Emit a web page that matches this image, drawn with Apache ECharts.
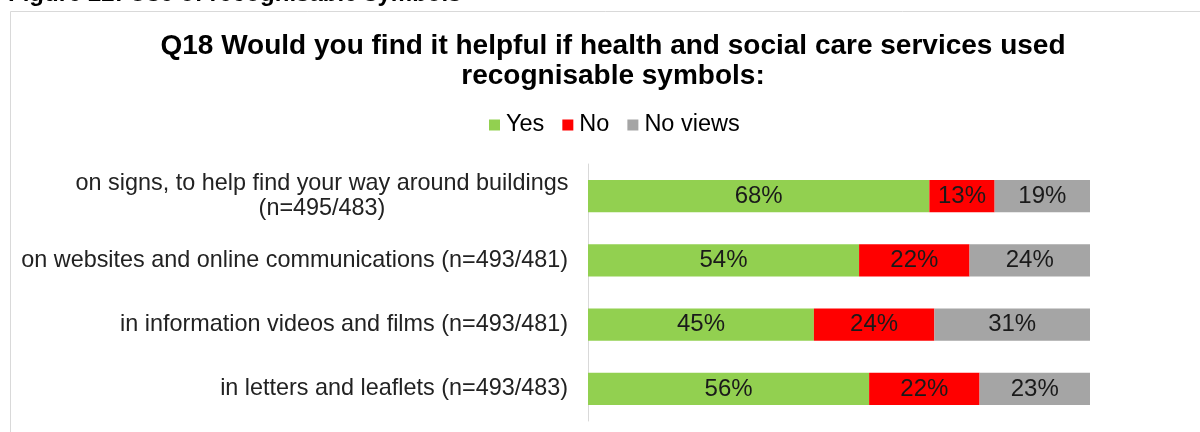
<!DOCTYPE html>
<html>
<head>
<meta charset="utf-8">
<script src="https://cdn.jsdelivr.net/npm/echarts@6/dist/echarts.min.js"></script>
<style>
  html, body { margin: 0; padding: 0; background: #ffffff; }
  #chart { width: 1200px; height: 432px; }
</style>
</head>
<body>
<div id="chart"></div>
<script>
// Survey items (top to bottom as displayed)
const categories = [
  'on signs, to help find your way around buildings\n(n=495/483)',
  'on websites and online communications (n=493/481)',
  'in information videos and films (n=493/481)',
  'in letters and leaflets (n=493/483)'
];
const yesValues = [68, 54, 45, 56];
const noValues = [13, 22, 24, 22];
const noViewsValues = [19, 24, 31, 23];
const seriesNames = ['Yes', 'No', 'No views'];
const seriesColors = ['#92D050', '#FF0000', '#A5A5A5'];

const FONT = '"Liberation Sans", Arial, sans-serif';

const chart = echarts.init(document.getElementById('chart'), null, { renderer: 'canvas' });

// category axis runs bottom-to-top, so reverse for display order
const cats = categories.slice().reverse();
const seriesData = [yesValues, noValues, noViewsValues].map(a => a.slice().reverse());

function catLabel(value) {
  if (value.indexOf('\n') >= 0) {
    return value.split('\n').map(s => '{w|' + s + '}').join('\n');
  }
  return value;
}

chart.setOption({
  animation: false,
  backgroundColor: '#ffffff',
  textStyle: { fontFamily: FONT },
  title: {
    text: 'Q18 Would you find it helpful if health and social care services used\nrecognisable symbols:',
    left: 608,
    textAlign: 'center',
    top: 26,
    textStyle: {
      fontFamily: FONT,
      fontSize: 28,
      fontWeight: 'bold',
      color: '#000000',
      lineHeight: 30
    }
  },
  legend: {
    data: seriesNames,
    top: 113,
    left: 489,
    padding: 0,
    itemWidth: 11,
    itemHeight: 11,
    itemGap: 18,
    icon: 'rect',
    textStyle: { fontFamily: FONT, fontSize: 23.5, color: '#000000', padding: [0, 0, 0, 1] }
  },
  grid: { left: 588, right: 110, top: 164, bottom: 11, containLabel: false },
  xAxis: {
    type: 'value',
    min: 0,
    max: 100,
    show: false
  },
  yAxis: {
    type: 'category',
    data: cats,
    axisLine: { show: true, lineStyle: { color: '#D9D9D9', width: 1 } },
    axisTick: { show: false },
    axisLabel: {
      margin: 20,
      fontFamily: FONT,
      fontSize: 23.4,
      color: '#222222',
      lineHeight: 25,
      formatter: catLabel,
      rich: {
        w: { fontFamily: FONT, fontSize: 23.4, color: '#222222', width: 492, align: 'center', lineHeight: 25 }
      }
    }
  },
  graphic: [
    {
      type: 'polyline',
      shape: { points: [[10.5, 432], [10.5, 11.5], [1200, 11.5]] },
      style: { stroke: '#D9D9D9', lineWidth: 1, fill: null },
      silent: true
    },
    {
      type: 'text',
      left: 8,
      top: -18,
      style: {
        text: 'Figure 22: Use of recognisable symbols',
        fontFamily: FONT,
        fontSize: 24,
        fontWeight: 'bold',
        fill: '#000000'
      },
      silent: true
    }
  ],
  series: seriesNames.map((name, i) => ({
    name: name,
    type: 'bar',
    stack: 'total',
    barCategoryGap: '50%',
    data: seriesData[i],
    itemStyle: { color: seriesColors[i] },
    label: {
      show: true,
      position: 'inside',
      formatter: p => p.value + '%',
      fontFamily: FONT,
      fontSize: 24,
      color: '#1a1a1a'
    }
  }))
});
</script>
</body>
</html>
